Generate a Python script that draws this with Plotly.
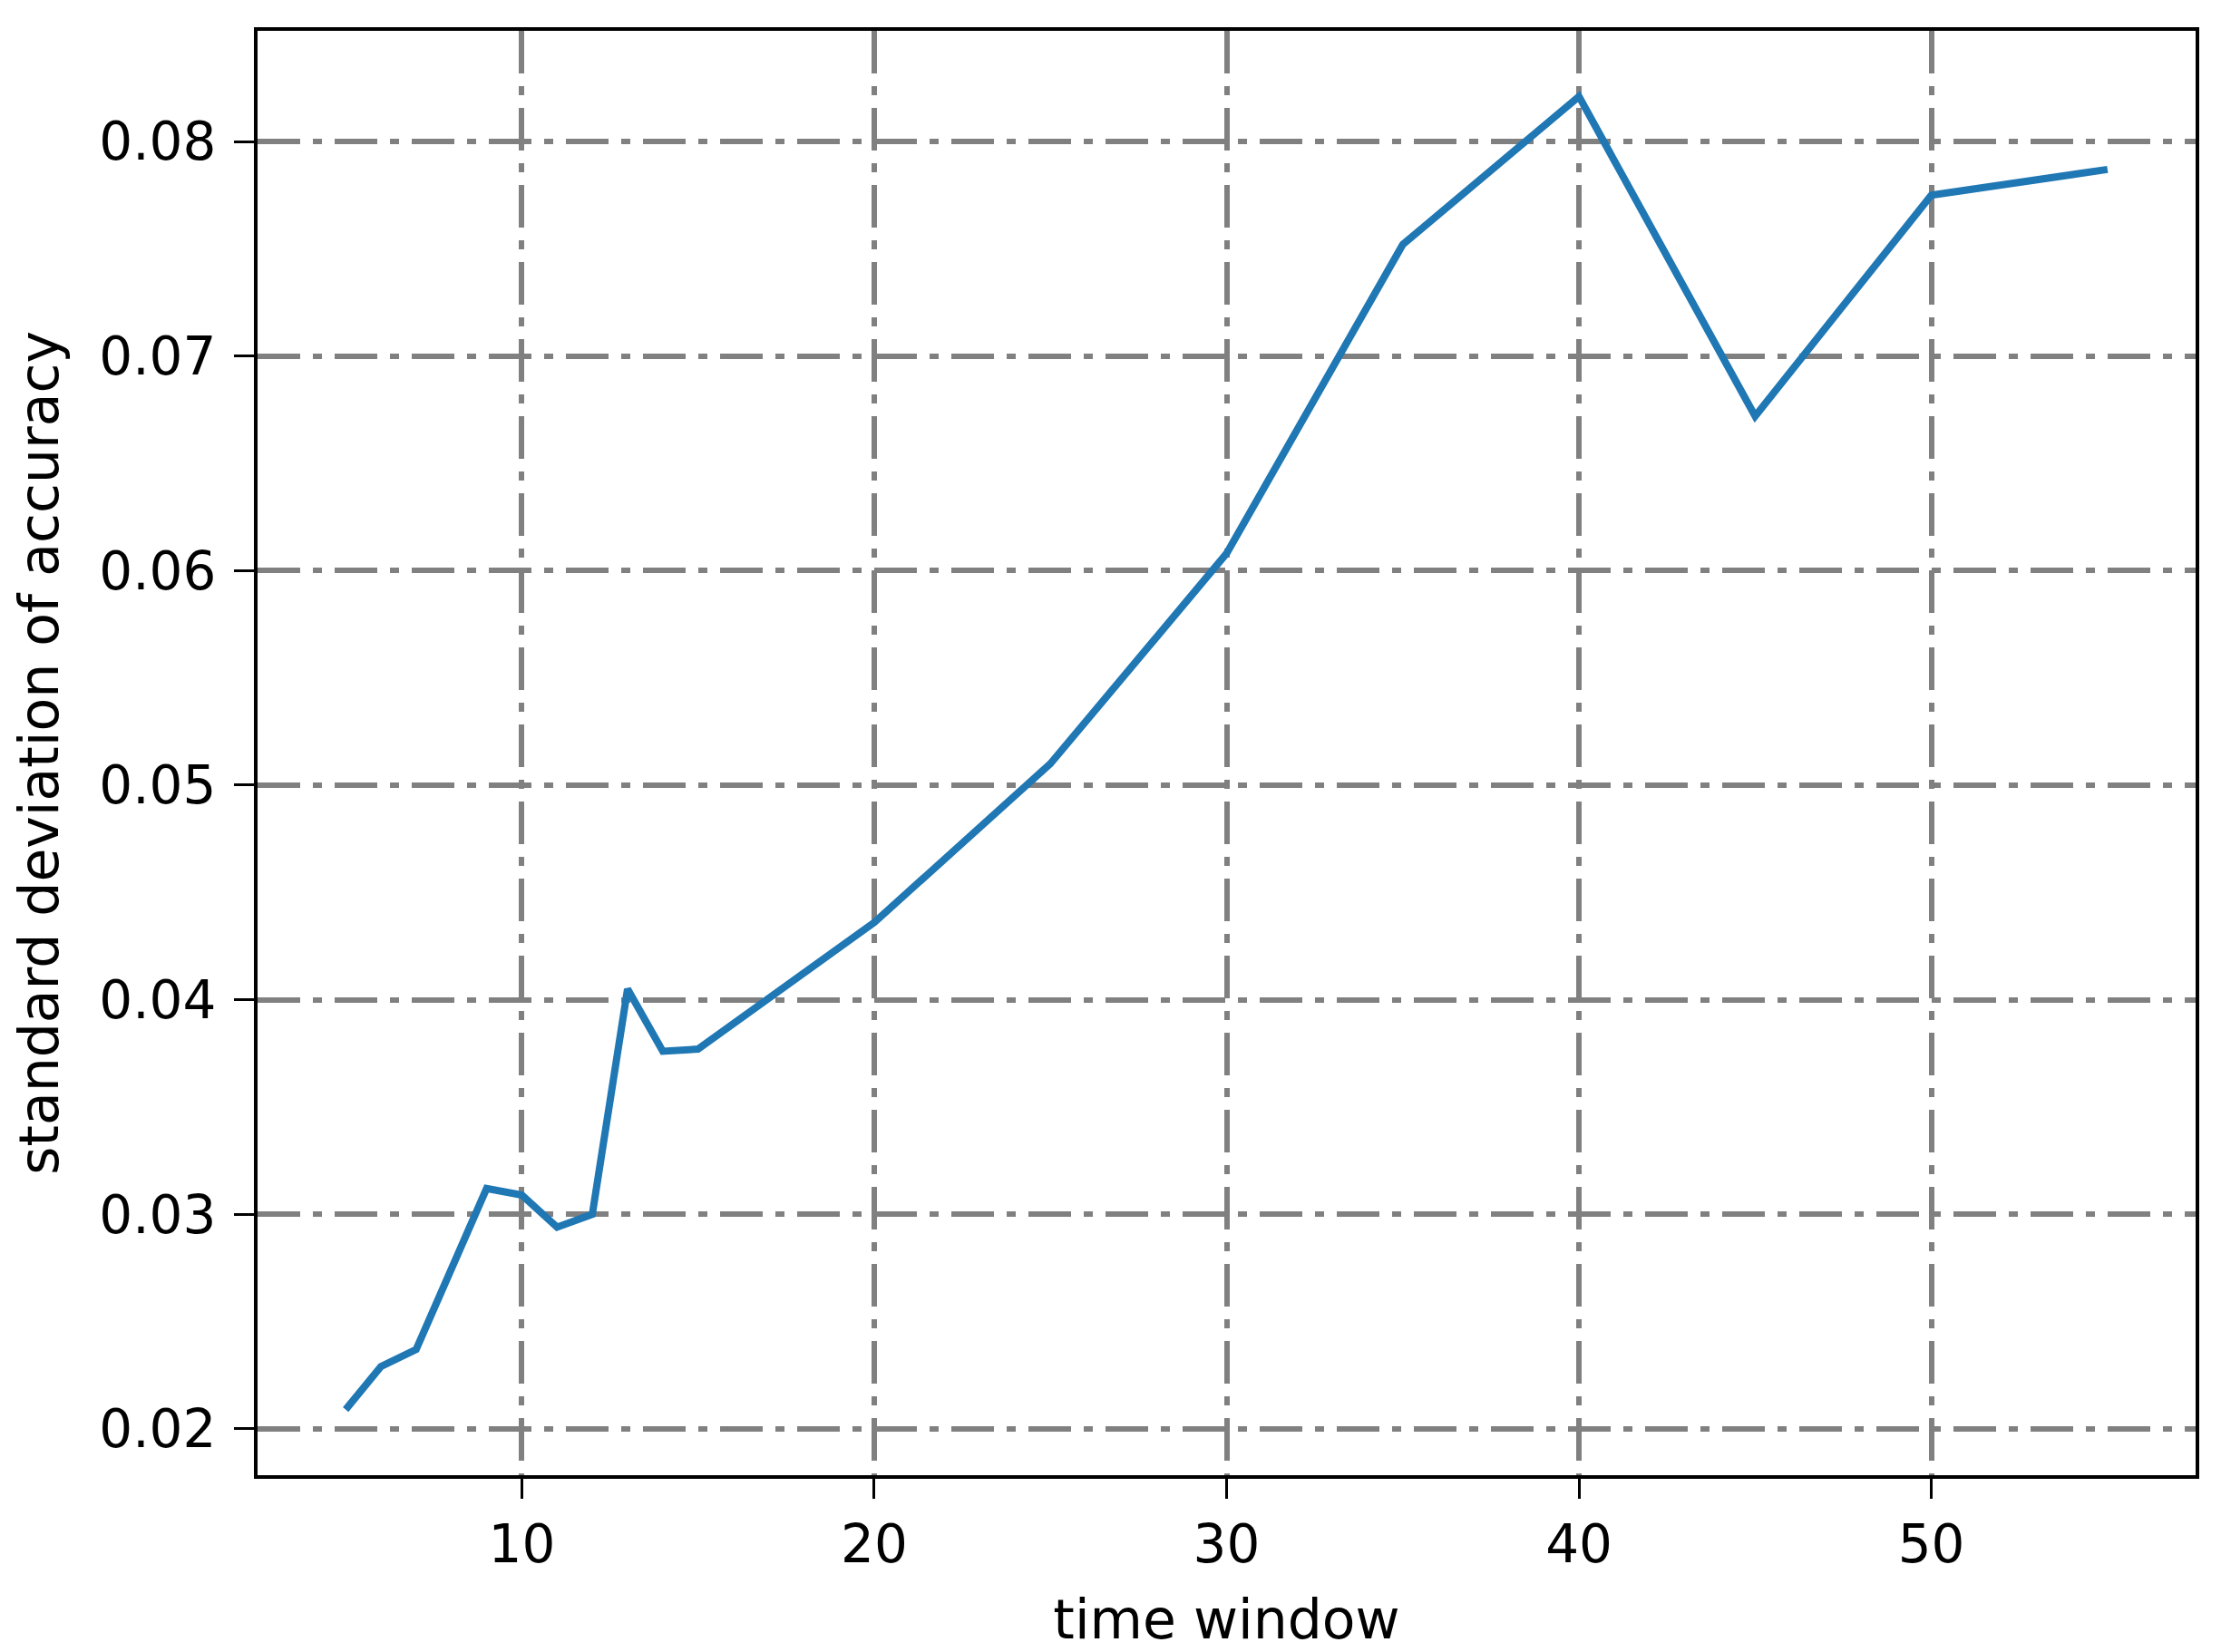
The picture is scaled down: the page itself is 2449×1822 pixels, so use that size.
"""
Standard deviation of accuracy versus time window, matplotlib-like line chart.
"""
import plotly.graph_objects as go

# time window sizes (x) and standard deviation of accuracy (y)
time_window = [5, 6, 7, 8, 9, 10, 11, 12, 13, 14, 15, 20, 25, 30, 35, 40, 45, 50, 55]
std_accuracy = [
    0.0209, 0.0229, 0.0237, 0.0275, 0.0312, 0.0309, 0.0294, 0.0300, 0.0405,
    0.0376, 0.0377, 0.0436, 0.0510, 0.0608, 0.0752, 0.0821, 0.0672, 0.0775, 0.0787,
]

x_ticks = [10, 20, 30, 40, 50]
y_ticks = [0.02, 0.03, 0.04, 0.05, 0.06, 0.07, 0.08]

FONT = "DejaVu Sans"
GRID_DASH = "47px,14px,10px,14px"

fig = go.Figure()
fig.add_trace(
    go.Scatter(
        x=time_window,
        y=std_accuracy,
        mode="lines",
        line={"color": "#1f77b4", "width": 8},
        hovertemplate="time window: %{x}<br>std: %{y:.4f}<extra></extra>",
    )
)

axis_common = dict(
    showline=True,
    linecolor="black",
    linewidth=4,
    mirror=True,
    ticks="outside",
    ticklen=22,
    tickwidth=3,
    tickcolor="black",
    showgrid=True,
    gridcolor="#808080",
    gridwidth=6,
    griddash=GRID_DASH,
    zeroline=False,
    automargin=False,
    tickfont={"family": FONT, "size": 58, "color": "black"},
)

fig.update_xaxes(
    range=[2.5, 57.5],
    tickvals=x_ticks,
    ticktext=[str(v) for v in x_ticks],
    title={"text": "time window", "font": {"family": FONT, "size": 60, "color": "black"}, "standoff": 30},
    **axis_common,
)
fig.update_yaxes(
    range=[0.01784, 0.08516],
    tickvals=y_ticks,
    ticktext=[f"{v:.2f}" for v in y_ticks],
    ticklabelstandoff=8,
    title={"text": "standard deviation of accuracy", "font": {"family": FONT, "size": 60, "color": "black"}, "standoff": 39},
    **axis_common,
)

# the page body adds an 8px offset, so the margins are trimmed to match
fig.update_layout(
    width=2449,
    height=1822,
    margin={"l": 276, "r": 36, "t": 26, "b": 203},
    plot_bgcolor="white",
    paper_bgcolor="white",
    showlegend=False,
)

fig.write_html("out.html")
